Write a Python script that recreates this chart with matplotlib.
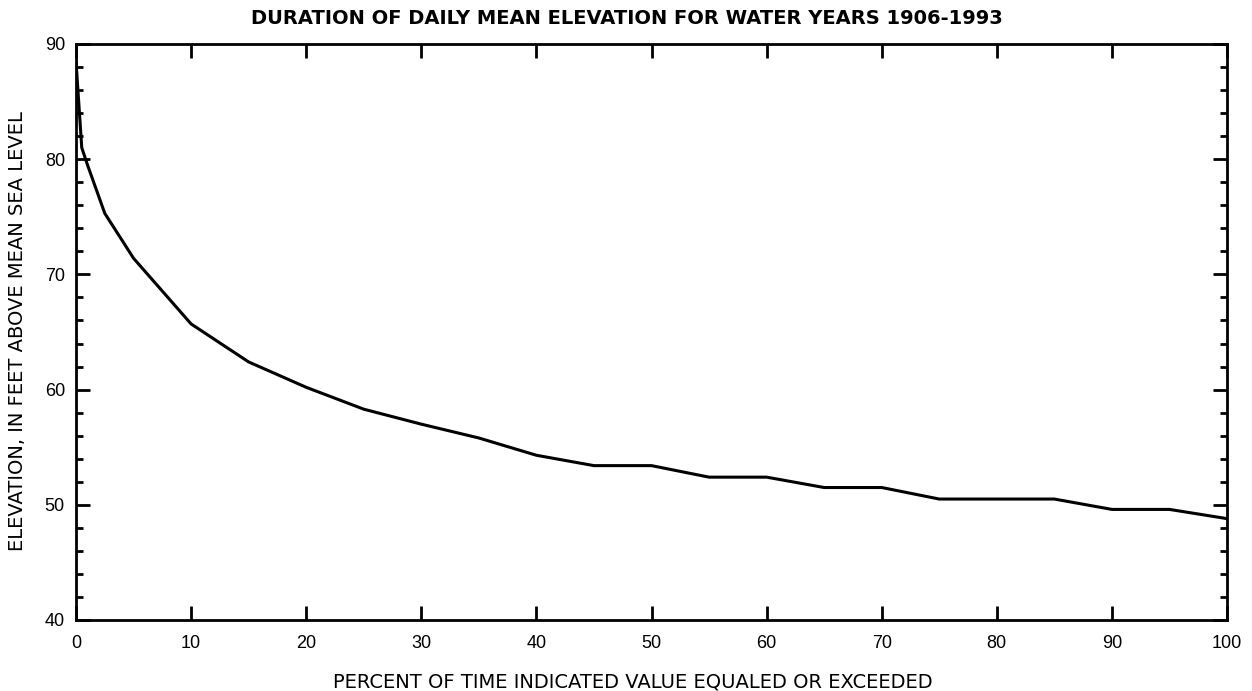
import matplotlib
matplotlib.use("Agg")
import matplotlib.pyplot as plt
from matplotlib.ticker import MultipleLocator

plt.rcParams['font.family'] = ['Liberation Sans', 'DejaVu Sans']

percent = [0, 0.5, 1, 2.5, 5, 10, 15, 20, 25, 30, 35, 40, 45, 50, 55, 60, 65, 70, 75, 80, 85, 90, 95, 100]
elevation = [88.5, 81.0, 79.5, 75.3, 71.4, 65.7, 62.4, 60.2, 58.3, 57.0, 55.8, 54.3, 53.4, 53.4,
             52.4, 52.4, 51.5, 51.5, 50.5, 50.5, 50.5, 49.6, 49.6, 48.8]
x_ticks = [0, 10, 20, 30, 40, 50, 60, 70, 80, 90, 100]
y_ticks = [40, 50, 60, 70, 80, 90]

fig = plt.figure(figsize=(12.52, 6.91), dpi=100)
ax = fig.add_axes([76/1252, 1 - 620/691, (1227 - 76)/1252, (620 - 44)/691])
ax.plot(percent, elevation, color='black', lw=2.2, solid_joinstyle='miter')
ax.set_xlim(0, 100)
ax.set_ylim(40, 90)
ax.set_xticks(x_ticks)
ax.set_yticks(y_ticks)
ax.yaxis.set_minor_locator(MultipleLocator(2))
ax.tick_params(axis='both', which='major', direction='in', length=10, width=2,
               top=True, right=True, labelsize=13, color='black')
ax.tick_params(axis='y', which='minor', direction='in', length=5, width=2, left=True, right=True)
ax.tick_params(axis='x', which='major', pad=11)
ax.tick_params(axis='y', which='major', pad=8)
for s in ax.spines.values():
    s.set_linewidth(2)

wide = ['DejaVu Sans']
fig.text(627/1252, 1 - 19/691, 'DURATION OF DAILY MEAN ELEVATION FOR WATER YEARS 1906-1993',
         ha='center', va='center', fontsize=14, fontweight='bold', family=wide)
fig.text(633/1252, 1 - 682/691, 'PERCENT OF TIME INDICATED VALUE EQUALED OR EXCEEDED',
         ha='center', va='center', fontsize=14, family=wide)
fig.text(18/1252, 1 - 331/691, 'ELEVATION, IN FEET ABOVE MEAN SEA LEVEL',
         ha='center', va='center', rotation=90, fontsize=14, family=wide)

fig.savefig('out.png', dpi=100)
